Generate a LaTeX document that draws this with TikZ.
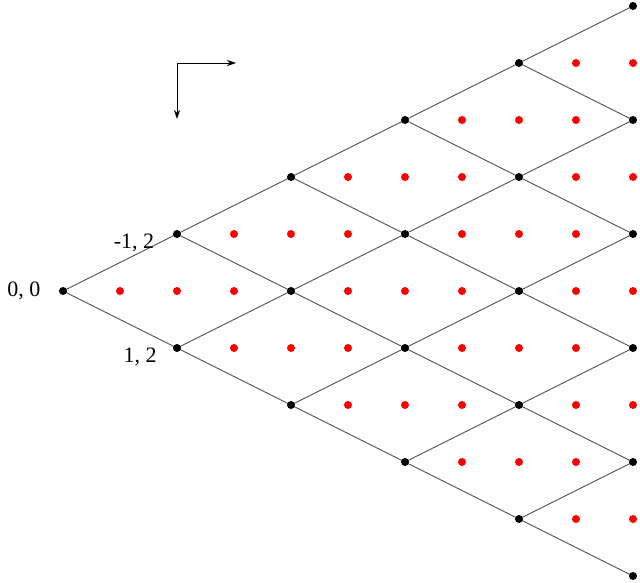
\documentclass[tikz,border=0pt]{standalone}
\usepackage{fontspec}
\setmainfont{Liberation Serif}
\usetikzlibrary{arrows.meta}
\begin{document}
\begin{tikzpicture}[x=1pt,y=-1pt,
  bdot/.style={circle,fill=black,inner sep=0pt,minimum size=8pt},
  rdot/.style={circle,fill=red,inner sep=0pt,minimum size=8pt},
  edge/.style={draw=black!75,line width=0.7pt},
  lbl/.style={font=\fontsize{22}{26}\selectfont}]
\useasboundingbox (0,0) rectangle (640,583);
% lattice nodes
\foreach \k in {0,...,5}{
  \foreach \i in {0,...,\k}{
    \pgfmathsetmacro\xx{63+114*\k}
    \pgfmathsetmacro\yy{291+57*(2*\i-\k)}
    \coordinate (n-\k-\i) at (\xx,\yy);
  }
}
% edges
\foreach \k in {0,...,4}{
  \pgfmathtruncatemacro\kn{\k+1}
  \foreach \i in {0,...,\k}{
    \pgfmathtruncatemacro\ii{\i+1}
    \draw[edge] (n-\k-\i) -- (n-\kn-\i);
    \draw[edge] (n-\k-\i) -- (n-\kn-\ii);
  }
}
\foreach \k in {0,...,5}{
  \foreach \i in {0,...,\k}{
    \node[bdot] at (n-\k-\i) {};
  }
}
% red dots
\foreach \lx/\ly in {63/291,291/291,519/291, 177/234,405/234, 291/177,519/177,
   405/120, 519/63, 177/348,405/348, 291/405,519/405, 405/462, 519/519}{
  \foreach \d in {57,114,171}{
    \pgfmathsetmacro\rx{\lx+\d}
    \ifdim \rx pt<640pt \node[rdot] at (\rx,\ly) {};\fi
  }
}
% labels
\node[lbl,anchor=east] (l00) at (44,291) {0, 0};
\node[lbl] (lm12) at (134,243) {-1, 2};
\node[lbl] (l12) at (140,357) {1, 2};
% axes arrows
\coordinate (c) at (177,63);
\coordinate (cx) at (236,63);
\coordinate (cy) at (177,119);
\draw[-{Stealth[length=9pt,width=6pt]},line width=0.8pt] (c) -- (cx);
\draw[-{Stealth[length=9pt,width=6pt]},line width=0.8pt] (c) -- (cy);
\end{tikzpicture}
\end{document}
